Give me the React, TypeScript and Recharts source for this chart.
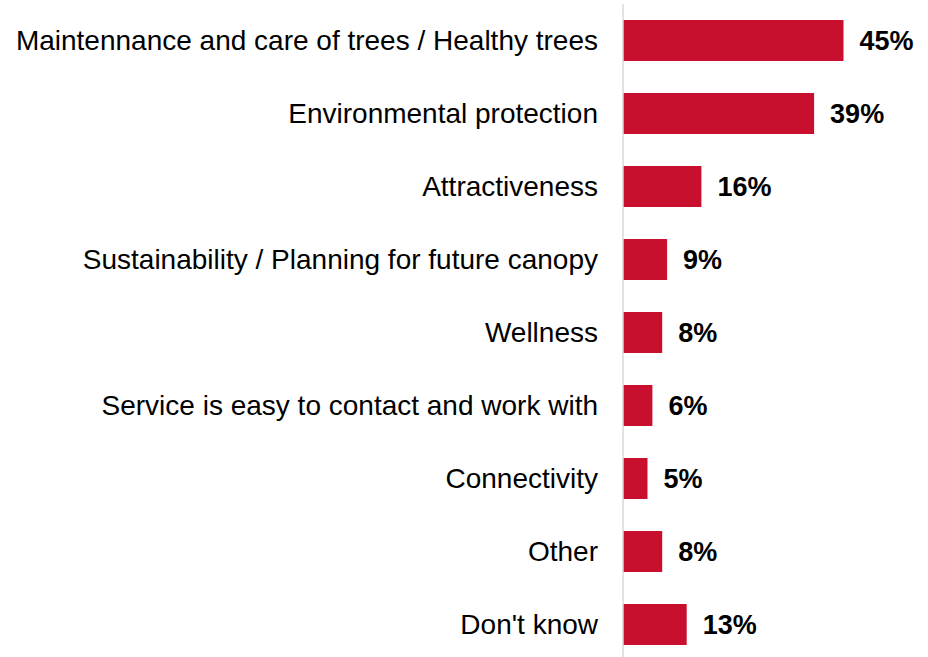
import React from 'react';
import { BarChart, Bar, XAxis, YAxis, LabelList } from 'recharts';

// Categories shown on the left, top to bottom
const categories = [
  'Maintennance and care of trees / Healthy trees',
  'Environmental protection',
  'Attractiveness',
  'Sustainability / Planning for future canopy',
  'Wellness',
  'Service is easy to contact and work with',
  'Connectivity',
  'Other',
  "Don't know",
];

// Share of respondents (%)
const shares = [45, 39, 16, 9, 8, 6, 5, 8, 13];

const data = categories.map((name, i) => ({ name, value: shares[i] }));

const FONT = '"Liberation Sans", Arial, Helvetica, sans-serif';
const RED = '#C8102E';

const App: React.FC = () => {
  return (
    <div
      style={{
        position: 'absolute',
        top: 0,
        left: 0,
        width: 928,
        height: 657,
        overflow: 'hidden',
        background: '#fff',
      }}
    >
      <BarChart
        width={928}
        height={661}
        data={data}
        layout="vertical"
        margin={{ top: 4, right: 60, bottom: 0, left: 0 }}
        barCategoryGap={0}
      >
        <XAxis type="number" domain={[0, 50]} hide />
        <YAxis
          type="category"
          dataKey="name"
          width={623}
          tickLine={false}
          tickSize={0}
          tickMargin={25}
          axisLine={{ stroke: '#d9d9d9', strokeWidth: 1.5 }}
          tick={{ fill: '#000', fontSize: 28, fontFamily: FONT }}
          interval={0}
        />
        <Bar dataKey="value" fill={RED} barSize={41} isAnimationActive={false}>
          <LabelList
            dataKey="value"
            position="right"
            offset={16}
            formatter={(v: number) => `${v}%`}
            style={{ fill: '#000', fontSize: 27, fontWeight: 'bold', fontFamily: FONT }}
          />
        </Bar>
      </BarChart>
    </div>
  );
};

export default App;
